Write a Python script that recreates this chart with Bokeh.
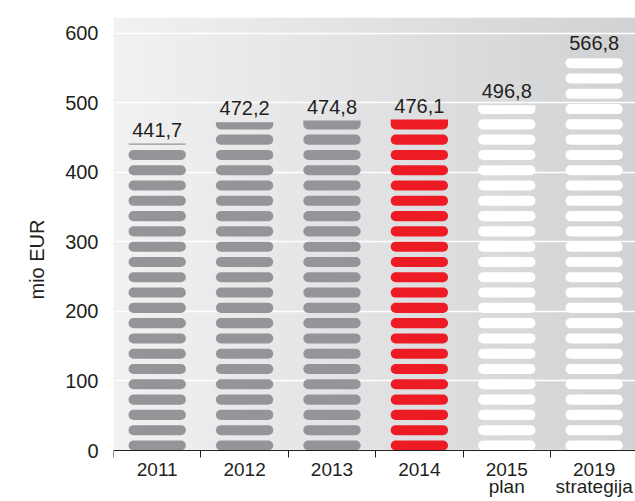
import math
import numpy as np
from bokeh.plotting import figure
from bokeh.models import FixedTicker, ColumnDataSource, Range1d
from bokeh.core.properties import value
from bokeh.embed import file_html
from bokeh.resources import INLINE

# ---- data ----
categories = ["2011", "2012", "2013", "2014", "2015\nplan", "2019\nstrategija"]
values = [441.7, 472.2, 474.8, 476.1, 496.8, 566.8]
value_labels = ["441,7", "472,2", "474,8", "476,1", "496,8", "566,8"]
bar_colors = ["#939598", "#939598", "#939598", "#ED1C24", "#FFFFFF", "#FFFFFF"]
y_ticks = [0, 100, 200, 300, 400, 500, 600]

# ---- style ----
PITCH = 22.0      # value units per pill
PILL_H = 14.5     # pill height in value units
PILL_W = 0.656    # fraction of category width
FONT = "Liberation Sans"
FS = "20px"
TXT = "#231F20"
Y_MAX = 623
X_MAX = 5.973
W, H = 635, 501
TOP, LEFT = 17, 113
AXIS_PX = 450          # pixel row of value 0
px_per_unit = (AXIS_PX - TOP) / Y_MAX
y_start = -(H - AXIS_PX) / px_per_unit

p = figure(width=W, height=H, output_backend="svg", toolbar_location=None,
           x_range=Range1d(0, X_MAX), y_range=Range1d(y_start, Y_MAX),
           min_border_left=LEFT, min_border_right=0, min_border_top=TOP, min_border_bottom=0)
p.outline_line_color = None
p.background_fill_color = "white"
p.border_fill_color = "white"

# gradient background (from value 0 up)
n = 600
t = np.linspace(0, 1, n)
left = np.array([242, 242, 243])
right = np.array([209, 210, 212])
cols = (left[None, :] * (1 - t[:, None]) + right[None, :] * t[:, None]).astype(np.uint32)
img = np.empty((1, n), dtype=np.uint32)
view = img.view(dtype=np.uint8).reshape((1, n, 4))
view[0, :, 0] = cols[:, 0]
view[0, :, 1] = cols[:, 1]
view[0, :, 2] = cols[:, 2]
view[0, :, 3] = 255
bg = p.image_rgba(image=[img], x=0, y=0, dw=X_MAX, dh=Y_MAX)
bg.level = "image"

# pills
full = dict(left=[], right=[], bottom=[], top=[], color=[])
part = dict(left=[], right=[], bottom=[], top=[], color=[])
for k, (v, c) in enumerate(zip(values, bar_colors)):
    cx = k + 0.5
    npills = int(math.ceil(v / PITCH))
    for i in range(npills):
        b = i * PITCH
        tp = b + PILL_H
        d = full if tp <= v else part
        d["left"].append(cx - PILL_W / 2)
        d["right"].append(cx + PILL_W / 2)
        d["bottom"].append(b)
        d["top"].append(min(tp, v))
        d["color"].append(c)

p.quad(source=ColumnDataSource(full), left="left", right="right", bottom="bottom", top="top",
       fill_color="color", line_color=None, border_radius=5)
p.quad(source=ColumnDataSource(part), left="left", right="right", bottom="bottom", top="top",
       fill_color="color", line_color=None, border_radius=(0, 0, 5, 5))

# value labels
centers = [k + 0.5 for k in range(len(categories))]
p.text(x=centers, y=values, text=value_labels,
       text_align="center", text_baseline="alphabetic", y_offset=-14,
       text_font=value(FONT), text_font_size=FS, text_color=TXT)

# axes
p.yaxis.ticker = FixedTicker(ticks=y_ticks)
p.yaxis.axis_line_color = None
p.yaxis.major_tick_line_color = None
p.yaxis.minor_tick_line_color = None
p.yaxis.major_tick_out = 0
p.yaxis.major_tick_in = 0
p.yaxis.major_label_standoff = 15
p.yaxis.major_label_text_font = FONT
p.yaxis.major_label_text_font_size = FS
p.yaxis.major_label_text_color = TXT
p.yaxis.axis_label = "mio EUR"
p.yaxis.axis_label_text_font = FONT
p.yaxis.axis_label_text_font_size = FS
p.yaxis.axis_label_text_font_style = "normal"
p.yaxis.axis_label_text_color = TXT
p.yaxis.axis_label_standoff = 14

p.xaxis.fixed_location = 0
p.xaxis.ticker = FixedTicker(ticks=centers, minor_ticks=list(range(len(categories) + 1)))
p.xaxis.major_label_overrides = {c: lab for c, lab in zip(centers, categories)}
p.xaxis.major_label_standoff = 1
p.xaxis.major_label_text_font = FONT
p.xaxis.major_label_text_font_size = "19px"
p.xaxis.major_label_text_color = TXT
p.xaxis.major_label_text_line_height = 0.85
p.xaxis.major_tick_in = 0
p.xaxis.major_tick_out = 0
p.xaxis.minor_tick_in = 0
p.xaxis.minor_tick_out = 7
p.xaxis.minor_tick_line_color = TXT
p.xaxis.axis_line_color = TXT

p.xgrid.grid_line_color = None
p.ygrid.ticker = FixedTicker(ticks=y_ticks)
p.ygrid.grid_line_color = "white"
p.ygrid.grid_line_width = 1.5

open("out.html", "w").write(file_html(p, INLINE))
